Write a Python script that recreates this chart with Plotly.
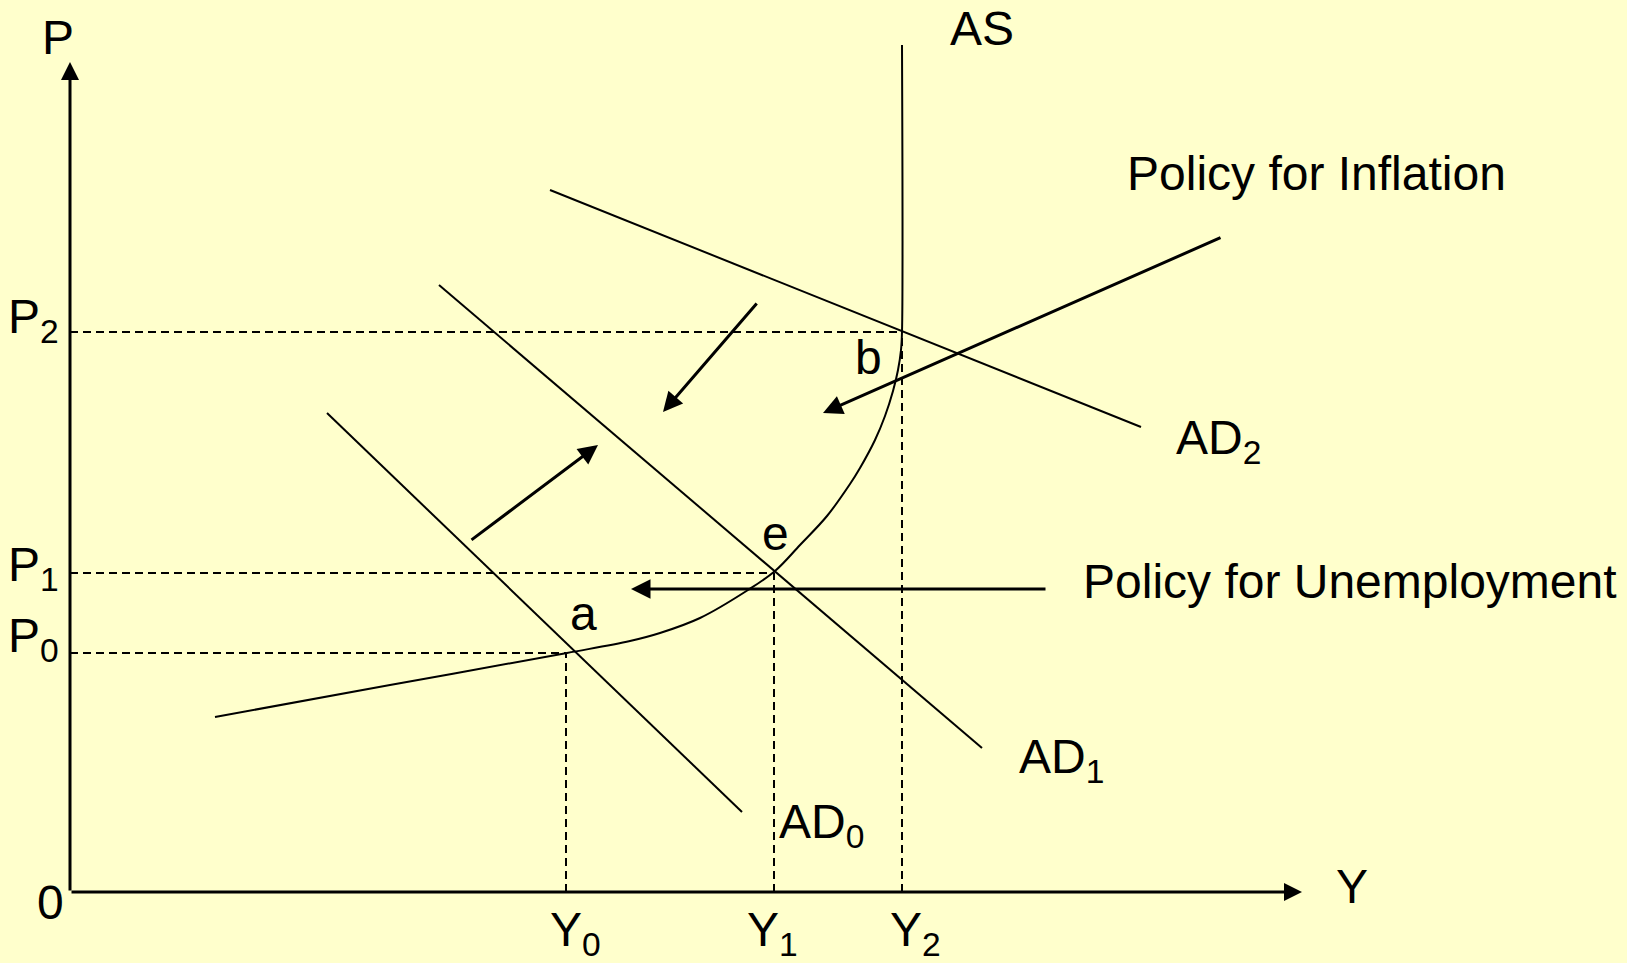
import plotly.graph_objects as go

# ---- data (diagram units, origin at 0,0) ----
axis_x_end = 1232
axis_y_end = 830

price_levels = [239, 319, 560]        # P0, P1, P2
output_levels = [496, 704, 832]       # Y0, Y1, Y2
price_labels = ["P<sub>0</sub>", "P<sub>1</sub>", "P<sub>2</sub>"]
output_labels = ["Y<sub>0</sub>", "Y<sub>1</sub>", "Y<sub>2</sub>"]

as_x = [145, 320, 497, 560, 590, 630, 678, 705, 730, 757, 780, 790, 805, 815, 823, 828, 831, 832, 832]
as_y = [175, 207, 239, 251, 259, 274, 302, 321, 347, 376, 408, 424, 452, 476, 501, 522, 542, 560, 847]

ad0_x = [257, 672]
ad0_y = [479, 80]
ad1_x = [369, 912]
ad1_y = [607, 144]
ad2_x = [480, 1071]
ad2_y = [702, 465]

# policy arrows: tail (x, y) -> head (x, y)
arrow_tail_x = [1152, 688, 400, 977]
arrow_tail_y = [655, 590, 351, 303]
arrow_head_x = [753, 593, 528, 561]
arrow_head_y = [479, 480, 447, 303]

# text labels
label_text = ["P", "0", "Y", "AS", "Policy for Inflation", "Policy for Unemployment",
              "AD<sub>2</sub>", "AD<sub>1</sub>", "AD<sub>0</sub>", "b", "e", "a"]
label_x = [-12, -20, 1282, 912, 1246, 1280, 1148, 991, 751, 798, 705, 513]
label_y = [855, -10, 6, 864, 719, 311, 451, 132, 67, 535, 359, 279]
price_label_x = -37
output_label_x = [505, 702, 845]
output_label_y = -41
price_label_y = [253, 324, 572]

FONT = "Liberation Sans, Arial, sans-serif"
BG = "#FFFFCC"
FS = 48

fig = go.Figure()

solid = dict(color="black", width=2)
dash = dict(color="black", width=2, dash="8px,5px")

# dashed guide lines
for p, yv in zip(price_levels, output_levels):
    fig.add_trace(go.Scatter(x=[0, yv], y=[p, p], mode="lines", line=dash, hoverinfo="skip"))
    fig.add_trace(go.Scatter(x=[yv, yv], y=[0, p], mode="lines", line=dash, hoverinfo="skip"))

# AD curves
for xs, ys in [(ad0_x, ad0_y), (ad1_x, ad1_y), (ad2_x, ad2_y)]:
    fig.add_trace(go.Scatter(x=xs, y=ys, mode="lines", line=solid, hoverinfo="skip"))

# AS curve
fig.add_trace(go.Scatter(x=as_x, y=as_y, mode="lines",
                         line=dict(color="black", width=2, shape="spline", smoothing=1.0),
                         hoverinfo="skip"))

annotations = []
# axes with arrows
annotations.append(dict(x=0, y=axis_y_end, ax=0, ay=0, xref="x", yref="y", axref="x", ayref="y",
                        text="", showarrow=True, arrowhead=2, arrowsize=1.2, arrowwidth=3,
                        arrowcolor="black", standoff=0))
annotations.append(dict(x=axis_x_end, y=0, ax=0, ay=0, xref="x", yref="y", axref="x", ayref="y",
                        text="", showarrow=True, arrowhead=2, arrowsize=1.2, arrowwidth=3,
                        arrowcolor="black", standoff=0))
# policy arrows
for tx, ty, hx, hy in zip(arrow_tail_x, arrow_tail_y, arrow_head_x, arrow_head_y):
    annotations.append(dict(x=hx, y=hy, ax=tx, ay=ty, xref="x", yref="y", axref="x", ayref="y",
                            text="", showarrow=True, arrowhead=2, arrowsize=1.3, arrowwidth=3,
                            arrowcolor="black", standoff=0))

font = dict(family=FONT, size=FS, color="black")
for t, x, y in zip(label_text, label_x, label_y):
    annotations.append(dict(x=x, y=y, xref="x", yref="y", text=t, showarrow=False,
                            xanchor="center", yanchor="middle", font=font))
for t, y in zip(price_labels, price_label_y):
    annotations.append(dict(x=price_label_x, y=y, xref="x", yref="y", text=t, showarrow=False,
                            xanchor="center", yanchor="middle", font=font))
for t, x in zip(output_labels, output_label_x):
    annotations.append(dict(x=x, y=output_label_y, xref="x", yref="y", text=t, showarrow=False,
                            xanchor="center", yanchor="middle", font=font))

fig.update_layout(
    width=1627, height=963,
    margin=dict(l=0, r=0, t=0, b=0),
    paper_bgcolor=BG, plot_bgcolor=BG,
    showlegend=False,
    xaxis=dict(range=[-70, 1557], visible=False, fixedrange=True),
    yaxis=dict(range=[-71, 892], visible=False, fixedrange=True),
    annotations=annotations,
    font=dict(family=FONT),
)

fig.write_html("out.html", config={"displayModeBar": False},
               post_script="document.body.style.margin='0';document.body.style.overflow='hidden';document.body.style.background='#FFFFCC';")
